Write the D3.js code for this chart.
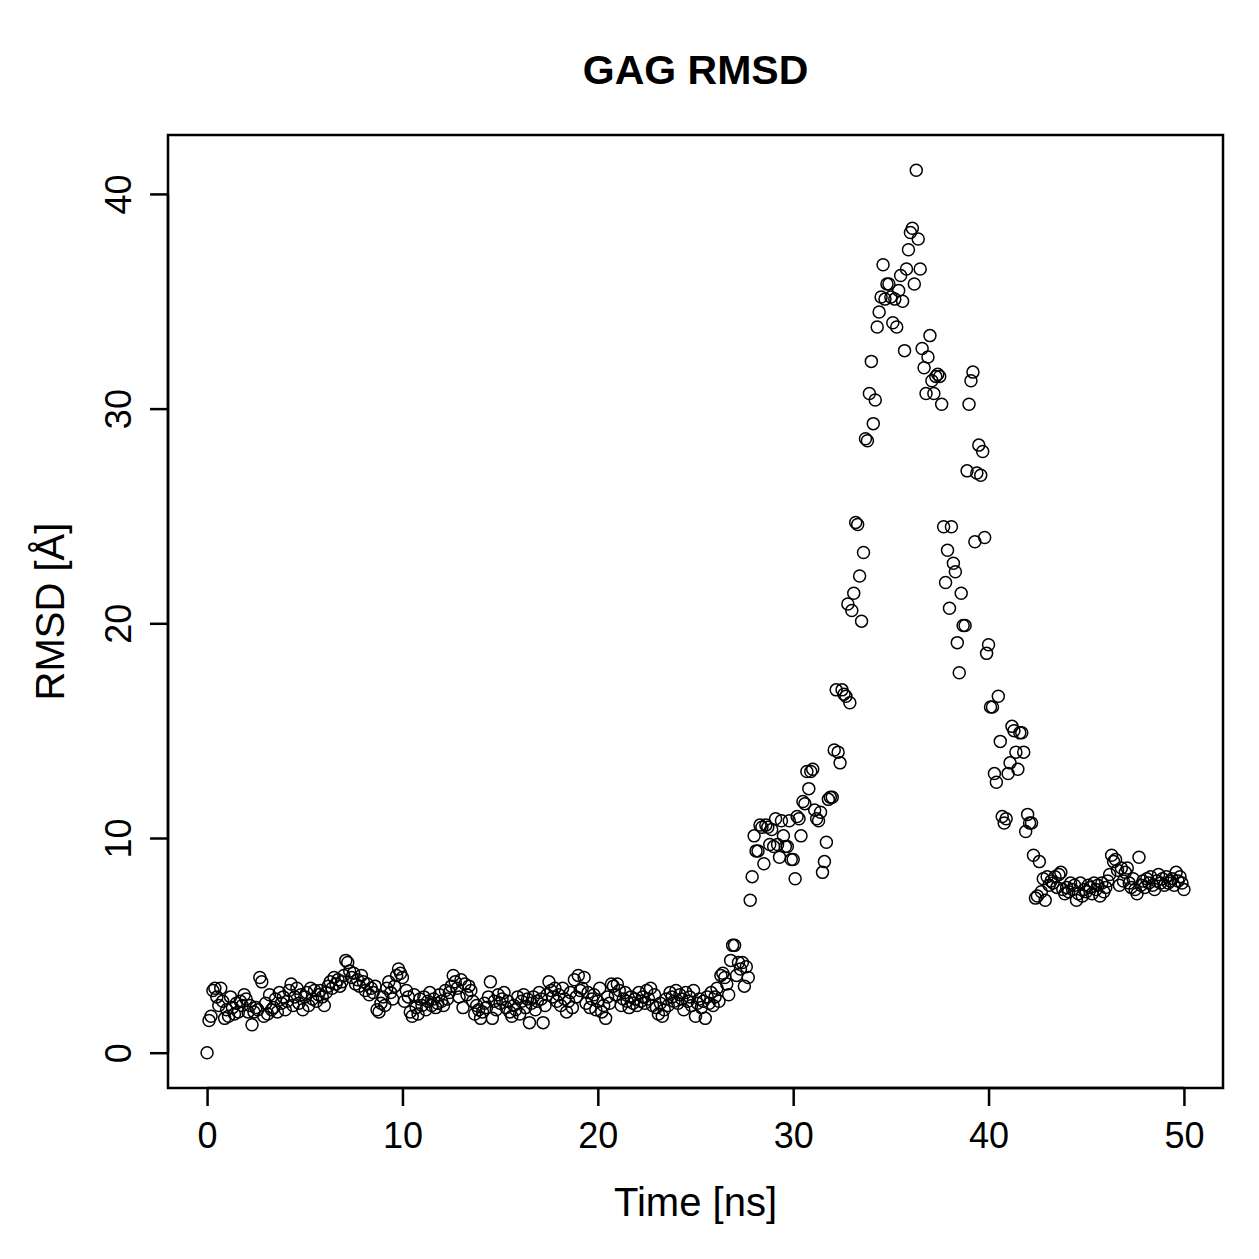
<!DOCTYPE html>
<html>
<head>
<meta charset="utf-8">
<script src="https://cdn.jsdelivr.net/npm/d3@7"></script>
<style>
  body { margin: 0; background: #fff; }
  text { font-family: "Liberation Sans", Arial, Helvetica, sans-serif; fill: #000; }
</style>
</head>
<body>
<div id="vis"></div>
<script>
// RMSD samples, one every 0.1 ns from 0 to 50 ns (10 per line = 1 ns)
var dt = 0.1;
var rmsd = [
  0.0, 1.5, 1.7, 2.9, 3.0, 2.6, 2.2, 3.0, 2.4, 1.6,
  2.0, 1.7, 2.6, 2.1, 1.8, 2.3, 1.9, 2.4, 2.2, 2.7,
  2.5, 1.9, 2.2, 1.3, 1.9, 2.1, 2.0, 3.5, 3.3, 1.7,
  2.3, 1.8, 2.7, 2.0, 2.1, 2.5, 1.9, 2.8, 2.3, 2.6,
  2.0, 2.4, 2.9, 3.2, 2.2, 2.6, 3.0, 2.3, 2.7, 2.0,
  2.6, 2.8, 2.2, 3.0, 2.5, 2.9, 2.4, 2.7, 2.9, 2.6,
  2.2, 2.8, 3.1, 3.3, 3.0, 3.5, 3.2, 3.4, 3.1, 3.3,
  3.6, 4.3, 4.2, 3.8, 3.5, 3.7, 3.2, 3.4, 3.1, 3.6,
  3.3, 2.9, 3.2, 2.7, 3.0, 2.8, 3.1, 2.0, 1.9, 2.3,
  2.6, 2.2, 3.0, 3.3, 2.8, 2.5, 3.1, 3.6, 3.9, 3.7,
  3.5, 2.4, 2.9, 2.6, 1.9, 1.7, 2.7, 2.1, 1.8, 2.5,
  2.2, 2.6, 2.0, 2.4, 2.8, 2.2, 2.5, 2.1, 2.3, 2.7,
  2.4, 2.2, 2.9, 2.5, 2.8, 3.1, 3.6, 3.3, 3.0, 2.6,
  3.4, 2.1, 3.2, 2.7, 3.1, 2.9, 2.4, 1.8, 2.2, 2.0,
  1.6, 1.9, 2.3, 2.1, 2.6, 3.3, 1.6, 2.4, 2.0, 2.7,
  2.3, 2.5, 2.8, 2.1, 2.4, 1.9, 1.7, 2.2, 2.0, 2.6,
  1.8, 2.4, 2.7, 2.1, 2.5, 1.4, 2.3, 2.6, 2.0, 2.4,
  2.8, 2.5, 1.4, 2.2, 2.7, 3.3, 2.9, 2.6, 3.0, 2.4,
  2.7, 2.2, 3.0, 2.5, 1.9, 2.4, 2.8, 2.1, 3.4, 2.6,
  3.6, 2.9, 3.0, 3.5, 2.3, 2.8, 2.1, 2.5, 2.7, 2.0,
  2.4, 3.0, 1.9, 2.2, 1.6, 2.6, 2.3, 3.2, 3.1, 2.7,
  3.2, 2.9, 2.2, 2.5, 2.8, 2.4, 2.1, 2.6, 2.3, 2.5,
  2.2, 2.8, 2.4, 2.6, 2.3, 2.9, 2.5, 3.0, 2.2, 2.7,
  2.1, 1.8, 2.3, 1.7, 2.0, 2.5, 2.2, 2.8, 2.6, 2.4,
  2.9, 2.3, 2.7, 2.5, 2.0, 2.8, 2.4, 2.6, 2.2, 2.9,
  1.7, 2.3, 2.5, 2.1, 2.4, 1.6, 2.6, 2.3, 2.8, 2.2,
  2.6, 3.0, 2.4, 3.6, 3.7, 3.5, 3.2, 2.7, 4.3, 5.0,
  5.0, 3.6, 4.2, 3.9, 4.2, 3.1, 4.0, 3.5, 7.1, 8.2,
  10.1, 9.4, 9.4, 10.6, 10.5, 8.8, 10.6, 10.5, 9.7, 10.4,
  9.6, 10.9, 9.7, 9.1, 10.8, 10.1, 9.6, 9.6, 10.8, 9.0,
  9.0, 8.1, 11.0, 10.9, 10.1, 11.7, 11.6, 13.1, 12.3, 13.1,
  13.2, 11.3, 10.9, 10.8, 11.2, 8.4, 8.9, 9.8, 11.8, 11.9,
  11.9, 14.1, 16.9, 14.0, 13.5, 16.9, 16.7, 16.6, 20.9, 16.3,
  20.6, 21.4, 24.7, 24.6, 22.2, 20.1, 23.3, 28.6, 28.5, 30.7,
  32.2, 29.3, 30.4, 33.8, 34.5, 35.2, 36.7, 35.1, 35.8, 35.8,
  35.2, 34.0, 35.1, 33.8, 35.5, 36.2, 35.0, 32.7, 36.5, 37.4,
  38.2, 38.4, 35.8, 41.1, 37.9, 36.5, 32.8, 31.9, 30.7, 32.4,
  33.4, 31.3, 30.7, 31.5, 31.6, 31.5, 30.2, 24.5, 21.9, 23.4,
  20.7, 24.5, 22.8, 22.4, 19.1, 17.7, 21.4, 19.9, 19.9, 27.1,
  30.2, 31.3, 31.7, 23.8, 27.0, 28.3, 26.9, 28.0, 24.0, 18.6,
  19.0, 16.1, 16.1, 13.0, 12.6, 16.6, 14.5, 11.0, 10.7, 10.9,
  13.0, 13.5, 15.2, 15.0, 14.0, 13.2, 14.9, 14.9, 14.0, 10.3,
  11.1, 10.7, 10.7, 9.2, 7.2, 7.3, 8.9, 7.5, 8.1, 7.1,
  8.2, 7.8, 8.0, 7.9, 8.2, 7.7, 8.3, 8.4, 7.6, 7.4,
  7.7, 7.5, 7.9, 7.6, 7.8, 7.1, 7.4, 7.9, 7.3, 7.6,
  7.5, 7.8, 7.7, 7.4, 7.9, 7.6, 7.8, 7.3, 7.9, 7.5,
  7.7, 8.0, 8.3, 9.2, 8.9, 9.0, 8.5, 7.8, 8.6, 8.0,
  8.4, 8.6, 7.9, 7.7, 8.1, 7.6, 7.4, 9.1, 7.8, 8.0,
  7.7, 8.1, 7.9, 8.2, 7.8, 7.6, 8.0, 8.3, 7.9, 8.1,
  7.8, 8.2, 7.9, 8.0, 8.1, 7.8, 8.4, 8.0, 8.2, 7.9,
  7.6
];
var xTicks = [0, 10, 20, 30, 40, 50];
var yTicks = [0, 10, 20, 30, 40];

var width = 1259, height = 1259;

// plot region, same as R's default box
var box = {left: 168, right: 1223, top: 135, bottom: 1088};

var data = rmsd.map(function(v, i) { return {t: i * dt, v: v}; });

// R pads the data range by 4% on each side
function pad(ext) {
  var r = ext[1] - ext[0];
  return [ext[0] - 0.04 * r, ext[1] + 0.04 * r];
}

var x = d3.scaleLinear()
    .domain(pad(d3.extent(data, function(d) { return d.t; })))
    .range([box.left, box.right]);
var y = d3.scaleLinear()
    .domain(pad(d3.extent(data, function(d) { return d.v; })))
    .range([box.bottom, box.top]);

var svg = d3.select("#vis")
  .append("svg")
    .attr("width", width)
    .attr("height", height);

// points
svg.append("g")
  .selectAll("circle")
  .data(data)
  .enter().append("circle")
    .attr("cx", function(d) { return x(d.t); })
    .attr("cy", function(d) { return y(d.v); })
    .attr("r", 6)
    .attr("fill", "none")
    .attr("stroke", "#000")
    .attr("stroke-width", 1.5);

// frame
svg.append("rect")
    .attr("x", box.left)
    .attr("y", box.top)
    .attr("width", box.right - box.left)
    .attr("height", box.bottom - box.top)
    .attr("fill", "none")
    .attr("stroke", "#000")
    .attr("stroke-width", 2.5);

// x axis
var xAxis = svg.append("g")
    .attr("transform", "translate(0," + box.bottom + ")")
    .call(d3.axisBottom(x).tickValues(xTicks).tickSize(18).tickSizeOuter(0).tickPadding(16));
xAxis.select(".domain")
    .attr("d", "M" + x(xTicks[0]) + ",0H" + x(xTicks[xTicks.length - 1]))
    .attr("stroke-width", 2.5);
xAxis.selectAll(".tick line").attr("stroke-width", 2.5);
xAxis.selectAll(".tick text")
    .style("font-family", "'Liberation Sans', Arial, sans-serif")
    .style("font-size", "36px");

// y axis, labels turned like R
var yAxis = svg.append("g")
    .attr("transform", "translate(" + box.left + ",0)")
    .call(d3.axisLeft(y).tickValues(yTicks).tickSize(18).tickSizeOuter(0));
yAxis.select(".domain")
    .attr("d", "M0," + y(yTicks[0]) + "V" + y(yTicks[yTicks.length - 1]))
    .attr("stroke-width", 2.5);
yAxis.selectAll(".tick line").attr("stroke-width", 2.5);
yAxis.selectAll(".tick text")
    .attr("x", null)
    .attr("dy", null)
    .attr("text-anchor", "middle")
    .attr("transform", "translate(-37,0) rotate(-90)")
    .style("font-family", "'Liberation Sans', Arial, sans-serif")
    .style("font-size", "36px");

// titles
svg.append("text")
    .attr("x", (box.left + box.right) / 2)
    .attr("y", 84)
    .attr("text-anchor", "middle")
    .style("font-size", "41px")
    .style("font-weight", "bold")
    .text("GAG RMSD");

svg.append("text")
    .attr("x", (box.left + box.right) / 2)
    .attr("y", 1216)
    .attr("text-anchor", "middle")
    .style("font-size", "40px")
    .text("Time [ns]");

svg.append("text")
    .attr("transform", "translate(64," + (box.top + box.bottom) / 2 + ") rotate(-90)")
    .attr("text-anchor", "middle")
    .style("font-size", "40px")
    .text("RMSD [Å]");
</script>
</body>
</html>
